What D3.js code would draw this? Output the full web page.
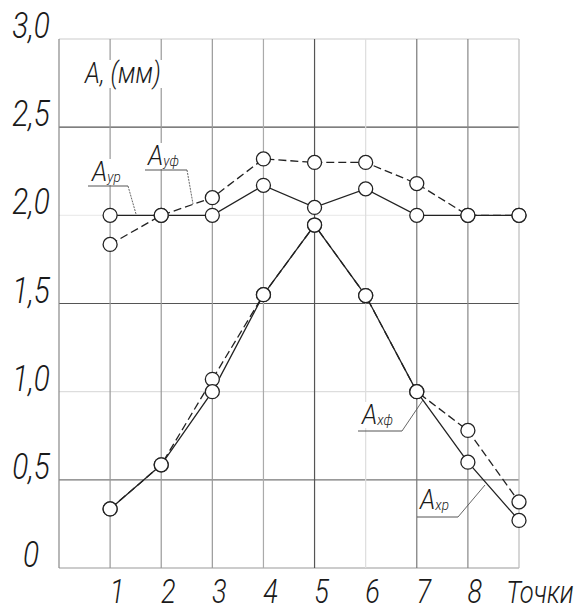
<!DOCTYPE html>
<html>
<head>
<meta charset="utf-8">
<script src="https://cdn.jsdelivr.net/npm/d3@7"></script>
<style>
  html, body { margin: 0; padding: 0; background: #fff; }
  svg text { font-family: Roboto, "DejaVu Sans", sans-serif; font-style: italic; font-weight: 300; fill: #1a1a1a; }
</style>
</head>
<body>
<svg id="chart" width="575" height="611"></svg>
<script>
// Data
const points = [1, 2, 3, 4, 5, 6, 7, 8, 9];
const xLabels = ["1", "2", "3", "4", "5", "6", "7", "8", "Точки"];
const yTicks = [0, 0.5, 1.0, 1.5, 2.0, 2.5, 3.0];
const yTickLabels = ["0", "0,5", "1,0", "1,5", "2,0", "2,5", "3,0"];
const aYP = [2.0, 2.0, 2.0, 2.17, 2.045, 2.15, 2.0, 2.0, 2.0];
const aYF = [1.835, 2.0, 2.10, 2.32, 2.30, 2.30, 2.18, 2.0, 2.0];
const aXP = [0.335, 0.585, 1.0, 1.55, 1.945, 1.545, 1.0, 0.60, 0.27];
const aXF = [0.335, 0.585, 1.07, 1.55, 1.945, 1.545, 1.0, 0.78, 0.375];

const svg = d3.select("#chart");

const x = d3.scaleLinear().domain([0, 9]).range([59, 519]);
const y = d3.scaleLinear().domain([0, 3]).range([568, 39]);

// grid shades (hand-drawn look: some lines darker than others)
const hShade = { 0: "#999", 0.5: "#777", 1: "#ddd", 1.5: "#555", 2: "#ececec", 2.5: "#555", 3: "#ccc" };
const vShade = ["#888", "#999", "#999", "#999", "#aaa", "#555", "#ddd", "#777", "#888", "#bbb"];

const grid = svg.append("g");
grid.selectAll("line.h")
  .data(yTicks)
  .join("line")
  .attr("class", "h")
  .attr("x1", x(0)).attr("x2", x(9))
  .attr("y1", d => y(d)).attr("y2", d => y(d))
  .attr("stroke", d => hShade[d])
  .attr("stroke-width", 1.2);

grid.selectAll("line.v")
  .data(d3.range(0, 10))
  .join("line")
  .attr("class", "v")
  .attr("x1", d => x(d)).attr("x2", d => x(d))
  .attr("y1", y(3)).attr("y2", y(0))
  .attr("stroke", (d, i) => vShade[i])
  .attr("stroke-width", 1.2);

// condensed italic text helper
function label(parent, px, py, txt, size, anchor, sx) {
  const g = parent.append("g").attr("transform", `translate(${px},${py}) scale(${sx || 0.8},1)`);
  return g.append("text")
    .attr("text-anchor", anchor || "start")
    .attr("font-size", size)
    .text(txt);
}

// y tick labels
yTicks.forEach((v, i) => label(svg, 31, y(v) - 1, yTickLabels[i], 36, "middle", 0.83));

// x tick labels
points.forEach((p, i) => {
  if (i < 8) label(svg, x(p) + 7, 603, xLabels[i], 34, "middle");
  else label(svg, 540, 603, xLabels[i], 32, "middle", 0.8);
});

// axis title with white backing
svg.append("rect").attr("x", 82).attr("y", 60).attr("width", 82).attr("height", 28).attr("fill", "#fff");
label(svg, 85, 83, "A, (мм)", 30, "start", 0.82);

// series lines
const line = d3.line().x((d, i) => x(points[i])).y(d => y(d));

const series = [
  { vals: aYF, dash: "8,4" },
  { vals: aYP, dash: null },
  { vals: aXF, dash: "8,4" },
  { vals: aXP, dash: null }
];

// legend callouts: white backed labels with underline + leader line
const callouts = [
  { main: "A", sub: "ур", tx: 92, ty: 181, ux1: 88, ux2: 128, uy: 186, lx: 136, ly: 214 },
  { main: "A", sub: "уф", tx: 148, ty: 165, ux1: 145, ux2: 187, uy: 170, lx: 193, ly: 204 },
  { main: "A", sub: "хф", tx: 362, ty: 424, ux1: 358, ux2: 402, uy: 431, lx: 423, ly: 400 },
  { main: "A", sub: "хр", tx: 420, ty: 509, ux1: 417, ux2: 458, uy: 517, lx: 485, ly: 485 }
];

const cg = svg.append("g");
callouts.forEach(c => {
  cg.append("rect").attr("x", c.ux1 + 1).attr("y", c.ty - 22).attr("width", c.ux2 - c.ux1 - 2).attr("height", 26).attr("fill", "#fff");
  const g = cg.append("g").attr("transform", `translate(${c.tx},${c.ty}) scale(0.9,1)`);
  const t = g.append("text").attr("font-size", 28);
  t.append("tspan").text(c.main);
  t.append("tspan").attr("font-size", 15).attr("dy", 1).text(c.sub);
  cg.append("line").attr("x1", c.ux1).attr("x2", c.ux2).attr("y1", c.uy).attr("y2", c.uy)
    .attr("stroke", "#555").attr("stroke-width", 1);
  cg.append("line").attr("x1", c.ux2).attr("y1", c.uy).attr("x2", c.lx).attr("y2", c.ly)
    .attr("stroke", "#555").attr("stroke-width", 0.9)
    .attr("stroke-dasharray", c.ly > c.uy ? "2,1" : null);
});

const lg = svg.append("g");
series.forEach(s => {
  lg.append("path")
    .attr("d", line(s.vals))
    .attr("fill", "none")
    .attr("stroke", "#222")
    .attr("stroke-width", 1.3)
    .attr("stroke-dasharray", s.dash);
});

series.forEach(s => {
  lg.selectAll(null)
    .data(s.vals)
    .join("circle")
    .attr("cx", (d, i) => x(points[i]))
    .attr("cy", d => y(d))
    .attr("r", 7)
    .attr("fill", "#fff")
    .attr("stroke", "#222")
    .attr("stroke-width", 1.3);
});
</script>
</body>
</html>
